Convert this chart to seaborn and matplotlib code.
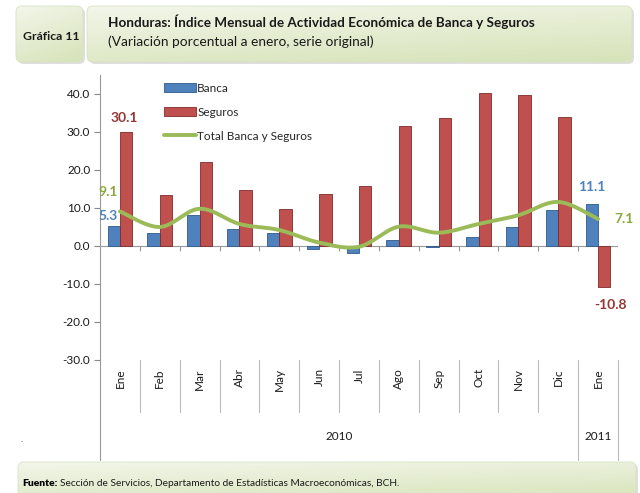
import numpy as np
import pandas as pd
import seaborn as sns
import matplotlib.pyplot as plt
from matplotlib.patches import FancyBboxPatch, Patch
from matplotlib.lines import Line2D

periodos = ['Ene 2010', 'Feb 2010', 'Mar 2010', 'Abr 2010', 'May 2010', 'Jun 2010',
            'Jul 2010', 'Ago 2010', 'Sep 2010', 'Oct 2010', 'Nov 2010', 'Dic 2010', 'Ene 2011']
meses = ['Ene', 'Feb', 'Mar', 'Abr', 'May', 'Jun', 'Jul', 'Ago', 'Sep', 'Oct', 'Nov', 'Dic', 'Ene']
banca = [5.3, 3.5, 8.1, 4.6, 3.5, -0.9, -1.9, 1.6, -0.3, 2.3, 5.1, 9.4, 11.1]
seguros = [30.1, 13.3, 22.2, 14.7, 9.8, 13.8, 15.8, 31.5, 33.6, 40.2, 39.8, 33.9, -10.8]
total = [9.1, 5.0, 9.8, 5.8, 4.2, 0.9, -0.2, 5.1, 3.5, 5.8, 8.1, 11.6, 7.1]
yticks = [-30, -20, -10, 0, 10, 20, 30, 40]

AZUL = '#4F81BD'
ROJO = '#C0504D'
VERDE = '#9BBB59'
FONT = ['Lato', 'DejaVu Sans']


def smooth(y, n=30):
    # curva suavizada tipo Excel (Catmull-Rom -> Bezier)
    x = np.arange(len(y), dtype=float)
    p = np.column_stack([x, np.asarray(y, dtype=float)])
    pts = []
    for i in range(len(p) - 1):
        p0 = p[i - 1] if i > 0 else p[i]
        p3 = p[i + 2] if i + 2 < len(p) else p[i + 1]
        c1 = p[i] + (p[i + 1] - p0) / 6
        c2 = p[i + 1] - (p3 - p[i]) / 6
        t = np.linspace(0, 1, n)[:, None]
        seg = ((1 - t) ** 3) * p[i] + 3 * ((1 - t) ** 2) * t * c1 + 3 * (1 - t) * t ** 2 * c2 + t ** 3 * p[i + 1]
        pts.append(seg)
    pts = np.vstack(pts)
    return pts[:, 0], pts[:, 1]


def caja(bg, x, y, w, h, r=6):
    sombra = FancyBboxPatch((x + 2, y + 2), w, h, boxstyle=f'round,pad=0,rounding_size={r}',
                            fc='#c8c8c8', ec='none', alpha=0.6, zorder=1)
    bg.add_patch(sombra)
    p = FancyBboxPatch((x, y), w, h, boxstyle=f'round,pad=0,rounding_size={r}',
                       fc='none', ec='#d9e2c6', lw=0.6, zorder=3)
    bg.add_patch(p)
    grad = np.linspace(0, 1, 64)[:, None] * np.ones((1, 64))
    grad = grad * 0.7 + np.linspace(0, 0.3, 64)[None, :]
    cmap = sns.blend_palette(['#f3f6ea', '#d6e3b8'], as_cmap=True)
    im = bg.imshow(grad, cmap=cmap, extent=(x, x + w, y + h, y), aspect='auto', zorder=2)
    im.set_clip_path(p)


sns.set_style('white')
plt.rcParams['font.family'] = FONT

df = pd.DataFrame({
    'periodo': periodos * 2,
    'serie': ['Banca'] * len(periodos) + ['Seguros'] * len(periodos),
    'valor': banca + seguros,
})

fig = plt.figure(figsize=(6.4, 4.93), dpi=100)

bg = fig.add_axes([0, 0, 1, 1], zorder=-1)
bg.set_xlim(0, 640)
bg.set_ylim(493, 0)
bg.axis('off')
caja(bg, 16, 6, 67, 56)
caja(bg, 87, 6, 545, 56)
caja(bg, 18, 462, 618, 40)

fig.text(51 / 640, 1 - 36 / 493, 'Gráfica 11', ha='center', va='center', fontsize=8.8, fontweight='bold', color='#1a1a1a')
fig.text(108 / 640, 1 - 22 / 493, 'Honduras: Índice Mensual de Actividad Económica de Banca y Seguros',
         ha='left', va='center', fontsize=9.7, fontweight='bold', color='#1a1a1a')
fig.text(108 / 640, 1 - 42 / 493, '(Variación porcentual a enero, serie original)',
         ha='left', va='center', fontsize=9.9, color='#1a1a1a')
fuente = fig.text(22 / 640, 1 - 483 / 493, 'Fuente:', ha='left', va='center', fontsize=7.4,
                  fontweight='heavy', color='#000000')
bg.annotate('Sección de Servicios, Departamento de Estadísticas Macroeconómicas, BCH.',
            xy=(1, 0.5), xycoords=fuente, xytext=(2, 0), textcoords='offset points',
            ha='left', va='center', fontsize=7.3, color='#1a1a1a')
fig.text(20 / 640, 1 - 440 / 493, '.', ha='left', va='center', fontsize=7, color='#333333')

ax = fig.add_axes([100 / 640, 1 - 360 / 493, 518 / 640, 285 / 493])
sns.barplot(data=df, x='periodo', y='valor', hue='serie', palette=[AZUL, ROJO],
            width=0.62, saturation=1, legend=False, ax=ax, zorder=3)
for cont, ec in zip(ax.containers, ['#2f5a8c', '#7f2a28']):
    for bar in cont:
        bar.set_edgecolor(ec)
        bar.set_linewidth(0.6)

xs, ys = smooth(total)
ax.plot(xs, ys, color=VERDE, lw=2.8, zorder=4, solid_capstyle='round')

ax.set_xlim(-0.5, len(periodos) - 0.5)
ax.set_ylim(-30, 45)
ax.set_yticks(yticks)
ax.set_yticklabels([f'{v:.1f}' for v in yticks], fontsize=8.5, color='#1a1a1a')
ax.tick_params(axis='y', direction='out', length=4, width=0.8, color='#888888', pad=3, left=True)
ax.set_xticks(range(len(meses)))
ax.set_xticklabels(meses, rotation=90, fontsize=8.5, color='#1a1a1a')
ax.tick_params(axis='x', length=0, pad=6)
ax.set_xlabel('')
ax.set_ylabel('')
for s in ['top', 'right', 'bottom']:
    ax.spines[s].set_visible(False)
ax.spines['left'].set_color('#999999')
ax.spines['left'].set_linewidth(0.8)

# eje en cero con marcas entre categorías
ax.axhline(0, color='#999999', lw=0.8, zorder=2)
limites = np.arange(len(periodos) + 1) - 0.5
ax.vlines(limites[1:], -1.3, 0, color='#999999', lw=0.8, zorder=2)

# separadores de categorías bajo el eje
tr = ax.get_xaxis_transform()
for b in limites[1:]:
    fin = -0.352 if b in (limites[-2], limites[-1]) else -0.182
    ax.plot([b, b], [0, fin], color='#bbbbbb', lw=0.8, transform=tr, clip_on=False)
ax.plot([-0.5, -0.5], [0, -0.352], color='#999999', lw=0.8, transform=tr, clip_on=False)
ax.text(5.5, -0.27, '2010', transform=tr, ha='center', va='center', fontsize=8.5, color='#1a1a1a')
ax.text(12, -0.27, '2011', transform=tr, ha='center', va='center', fontsize=8.5, color='#1a1a1a')

# etiquetas de datos
lab = dict(fontsize=10, fontweight='bold', ha='center', va='center', zorder=5)
ax.text(0.1, seguros[0] + 3.7, f'{seguros[0]:.1f}', color='#943634', **lab)
ax.text(-0.3, banca[0] + 2.5, f'{banca[0]:.1f}', color=AZUL, **lab)
ax.text(-0.3, total[0] + 5.2, f'{total[0]:.1f}', color='#8aa83e', **lab)
ax.text(11.85, banca[-1] + 4.3, f'{banca[-1]:.1f}', color=AZUL, **lab)
ax.text(12.65, total[-1], f'{total[-1]:.1f}', color='#8aa83e', **lab)
ax.text(12.3, seguros[-1] - 4.8, f'{seguros[-1]:.1f}', color='#943634', **lab)

handles = [Patch(fc=AZUL, ec='#2f5a8c', lw=0.6), Patch(fc=ROJO, ec='#7f2a28', lw=0.6),
           Line2D([], [], color=VERDE, lw=2.8)]
leg = ax.legend(handles, ['Banca', 'Seguros', 'Total Banca y Seguros'], loc='upper left',
                bbox_to_anchor=(0.115, 0.99), frameon=False, fontsize=8.5, handlelength=2.7,
                handleheight=0.7, labelspacing=1.1, handletextpad=0.1, borderaxespad=0)

fig.savefig('out.png', dpi=100)
